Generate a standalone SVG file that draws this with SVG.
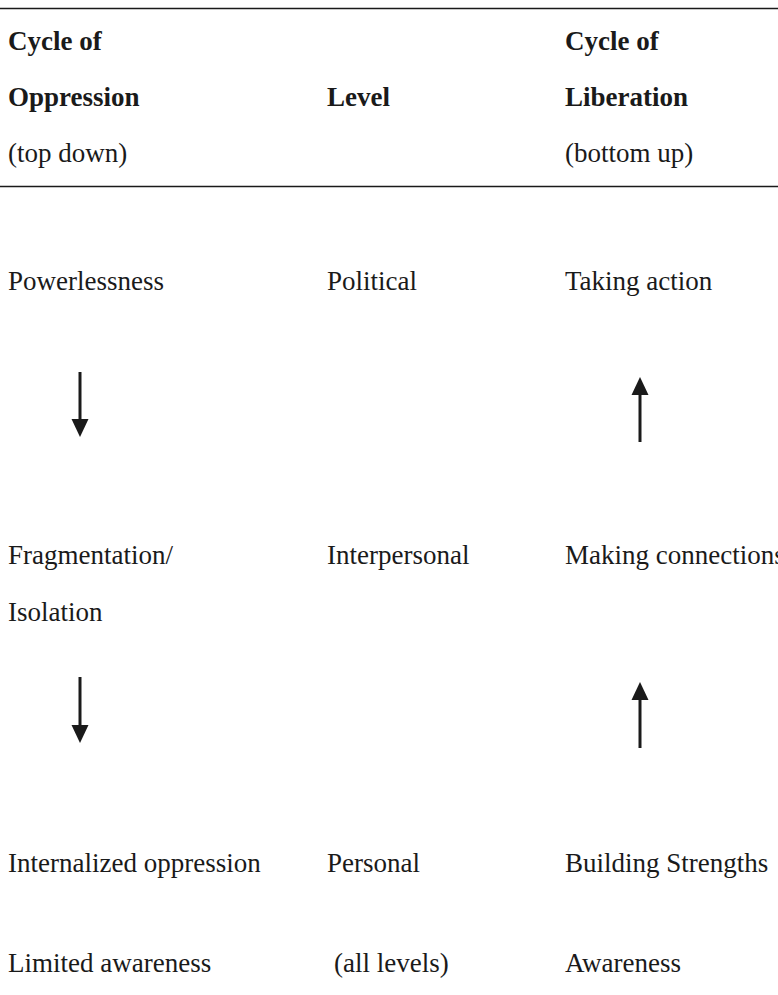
<svg xmlns="http://www.w3.org/2000/svg" width="778" height="995" viewBox="0 0 778 995">
<style>
text{font-family:"Liberation Serif","Times New Roman",serif;font-size:27px;fill:#1a1a1a}
.b{font-weight:bold}
.rule{stroke:#1a1a1a;stroke-width:1.6}
.arr{stroke:#1a1a1a;stroke-width:3}
.head{fill:#1a1a1a}
</style>
<rect width="778" height="995" fill="#fff"/>
<g id="header">
<line class="rule" x1="0" y1="8.5" x2="778" y2="8.5"/>
<text class="b" x="8" y="50">Cycle of</text>
<text class="b" x="565" y="50">Cycle of</text>
<text class="b" x="8" y="106">Oppression</text>
<text class="b" x="327" y="106">Level</text>
<text class="b" x="565" y="106">Liberation</text>
<text x="8" y="162">(top down)</text>
<text x="565" y="162">(bottom up)</text>
<line class="rule" x1="0" y1="186.5" x2="778" y2="186.5"/>
</g>
<g id="row-political">
<text x="8" y="290">Powerlessness</text>
<text x="327" y="290">Political</text>
<text x="565" y="290">Taking action</text>
</g>
<g id="row-interpersonal">
<text x="8" y="564">Fragmentation/</text>
<text x="8" y="621">Isolation</text>
<text x="327" y="564">Interpersonal</text>
<text x="565" y="564">Making connections</text>
</g>
<g id="row-personal">
<text x="8" y="872">Internalized oppression</text>
<text x="327" y="872">Personal</text>
<text x="565" y="872">Building Strengths</text>
</g>
<g id="row-all">
<text x="8" y="972">Limited awareness</text>
<text x="334" y="972">(all levels)</text>
<text x="565" y="972">Awareness</text>
</g>
<g id="connectors">
<line class="arr" x1="80" y1="372" x2="80" y2="420"/>
<polygon class="head" points="71.5,419 88.5,419 80,437"/>
<line class="arr" x1="640" y1="393" x2="640" y2="442"/>
<polygon class="head" points="631.5,395 648.5,395 640,377"/>
<line class="arr" x1="80" y1="677" x2="80" y2="726"/>
<polygon class="head" points="71.5,725 88.5,725 80,743"/>
<line class="arr" x1="640" y1="698" x2="640" y2="748"/>
<polygon class="head" points="631.5,700 648.5,700 640,682"/>
</g>
</svg>
